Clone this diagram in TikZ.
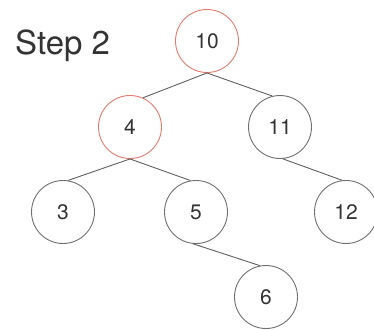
\documentclass[tikz,border=0pt]{standalone}
\usepackage{fontspec}
\setmainfont{TeX Gyre Heros}
\usepackage{tikz}
\definecolor{mark}{RGB}{226,122,112}
\definecolor{edge}{RGB}{95,95,95}

\begin{document}
\begin{tikzpicture}[x=1pt,y=-1pt,
    font=\fontsize{21}{24}\selectfont,
    nd/.style={circle,draw=edge!90,line width=0.9pt,fill=white,minimum size=63pt,inner sep=0pt,text=black!80},
    hot/.style={nd,draw=mark},
    link/.style={line width=0.9pt,draw=edge}
]
\useasboundingbox (0,0) rectangle (374,329);
\node[font=\fontsize{33}{36}\selectfont,text=black!80,anchor=base west,inner sep=0pt] (title) at (15,54) {Step 2};
% the tree
\node[hot] (n10) at (207,41) {10};
\node[hot] (n4) at (130,127) {4};
\node[nd] (n11) at (280,127) {11};
\node[nd] (n3) at (63,212) {3};
\node[nd] (n5) at (196,212) {5};
\node[nd] (n12) at (346,212) {12};
\node[nd] (n6) at (266,297) {6};
\draw[link] (n10.south) -- (n4.66);
\draw[link] (n10.south) -- (n11.104);
\draw[link] (n4.south) -- (n3.81);
\draw[link] (n4.south) -- (n5.100);
\draw[link] (n11.-85) -- (n12.97);
\draw[link] (n5.-95) -- (n6.101);
\end{tikzpicture}
\end{document}
